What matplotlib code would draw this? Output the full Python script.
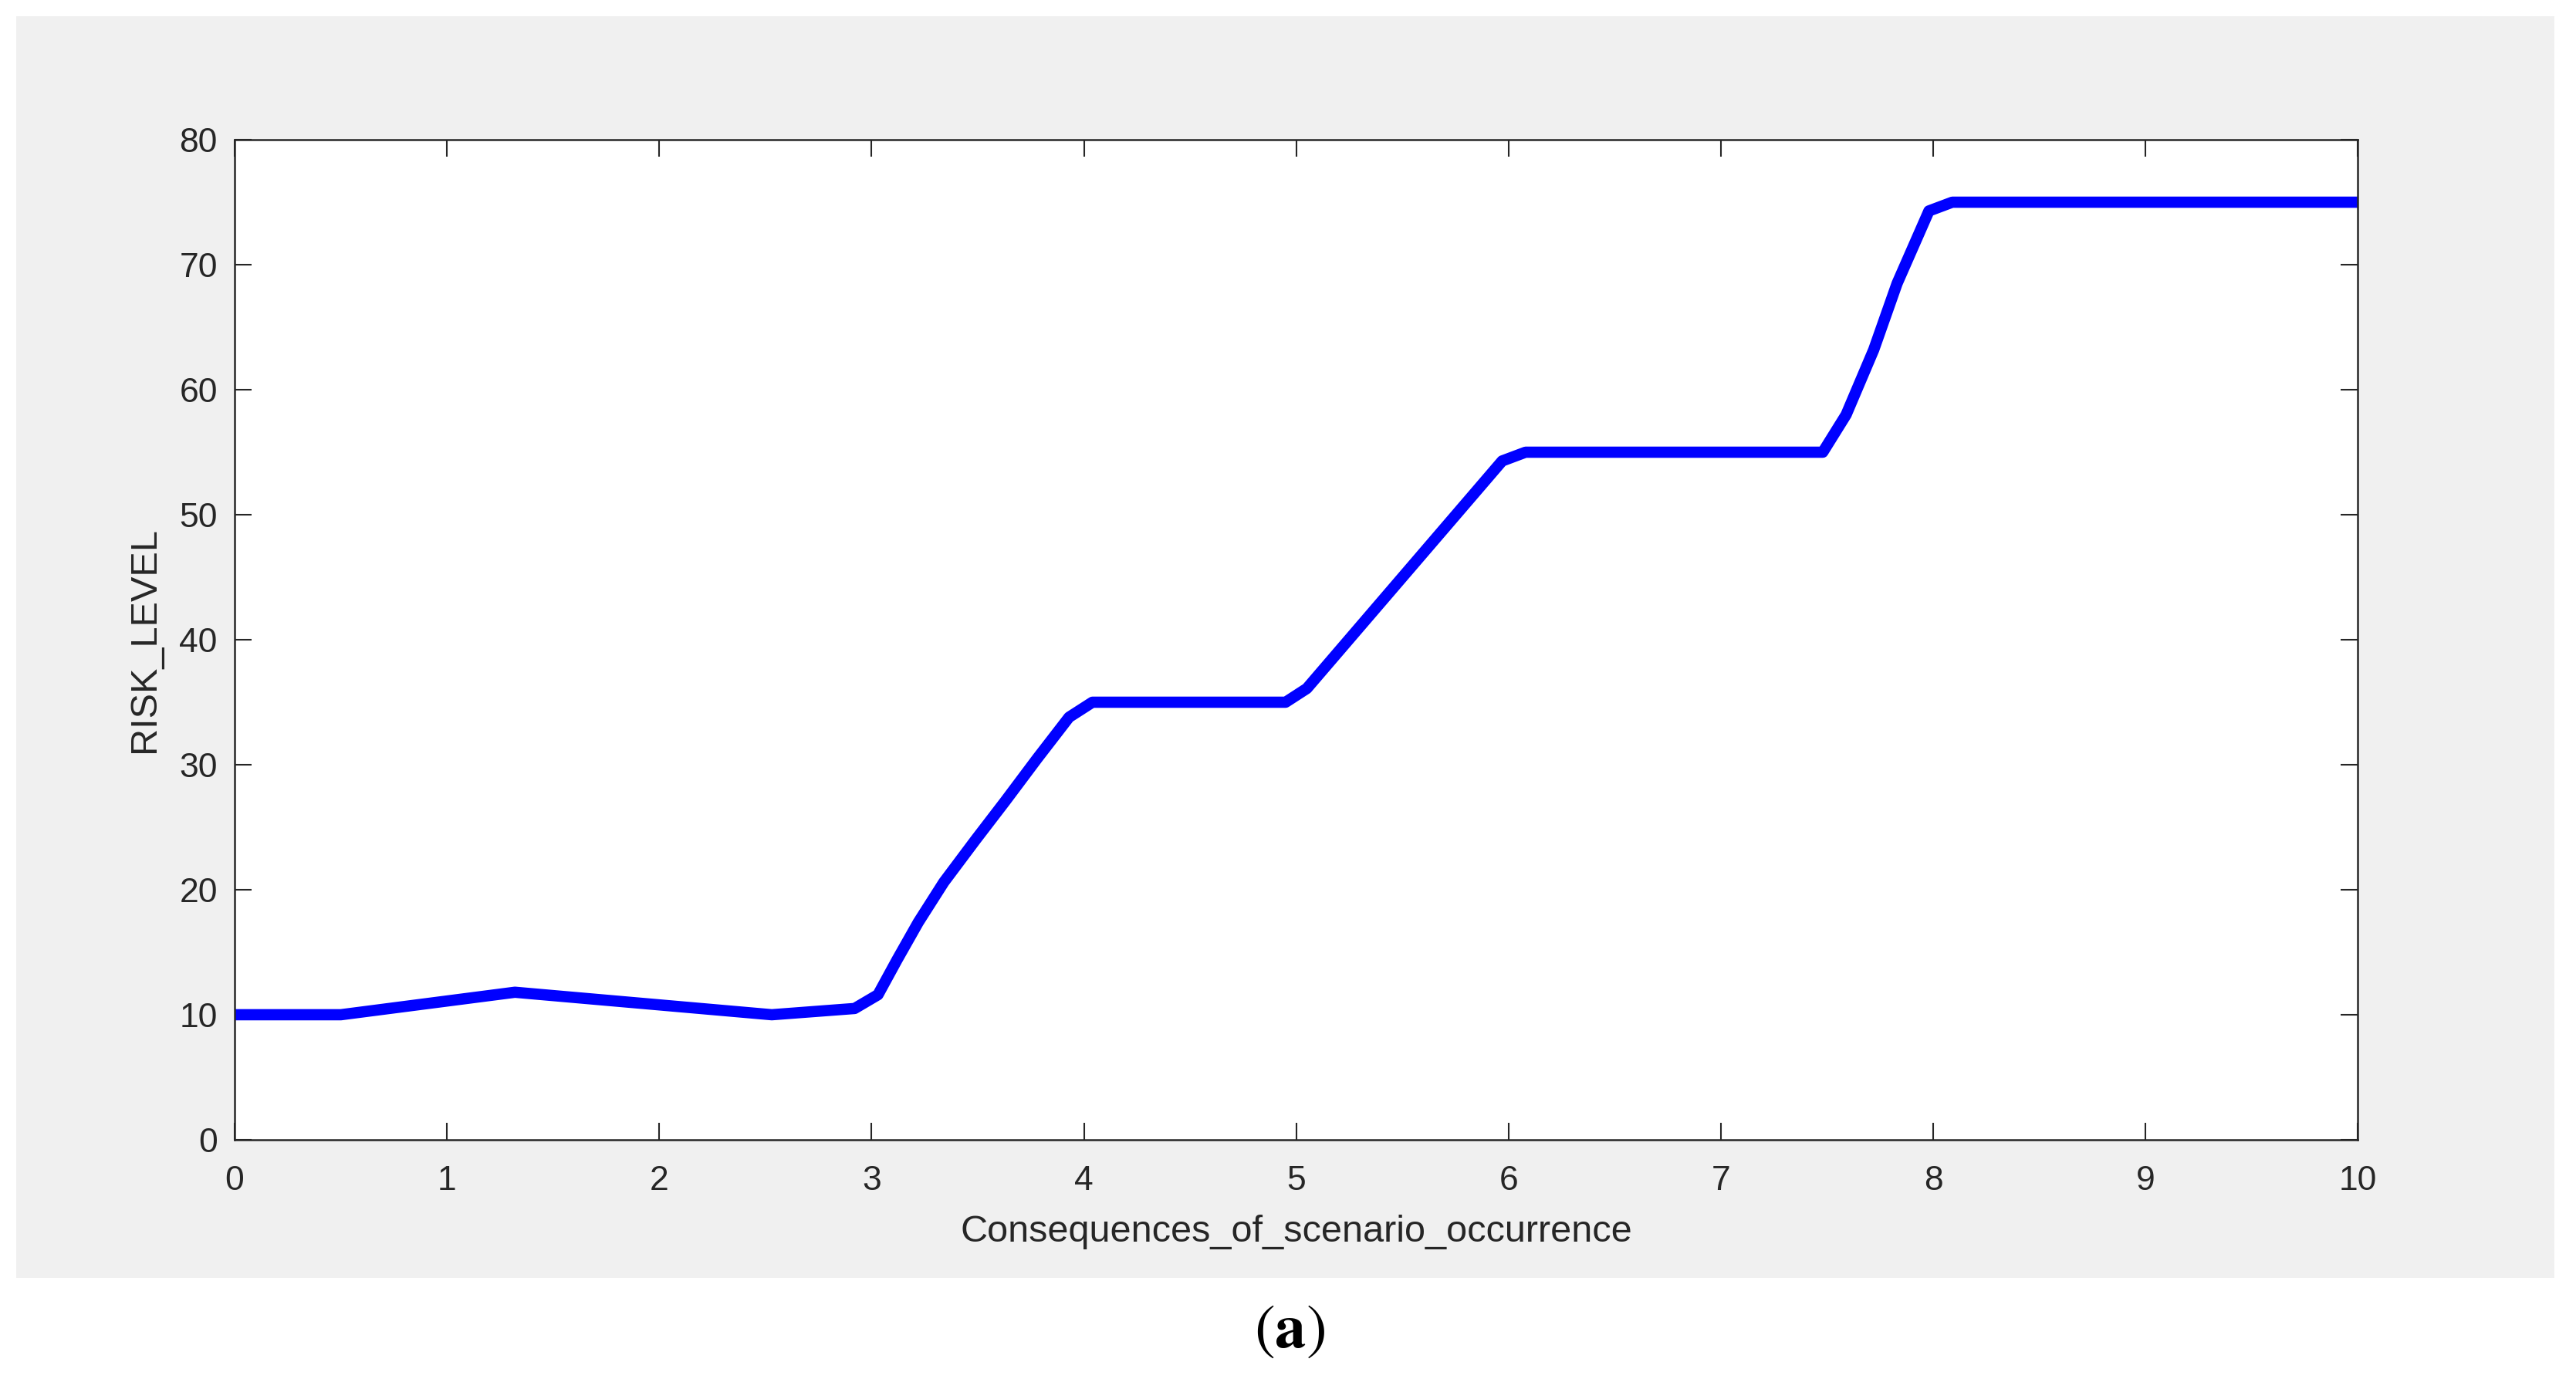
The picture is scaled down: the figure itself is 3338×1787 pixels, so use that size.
import matplotlib.pyplot as plt
from matplotlib.patches import Rectangle

plt.rcParams['font.family'] = ['Liberation Sans', 'DejaVu Sans']

# values
consequences = [0, 0.5, 1.32, 2.53, 2.92, 3.03, 3.12, 3.22, 3.34, 3.49, 3.63, 3.78, 3.93,
                4.04, 4.95, 5.05, 5.97, 6.08, 7.48, 7.59, 7.72, 7.83, 7.98, 8.09, 10]
risk_level = [10, 10, 11.8, 10, 10.5, 11.6, 14.4, 17.4, 20.6, 24, 27.1, 30.5, 33.8,
              35, 35, 36.1, 54.3, 55, 55, 58, 63.2, 68.5, 74.3, 75, 75]
xticks = list(range(0, 11))
yticks = list(range(0, 81, 10))

fig = plt.figure(figsize=(33.38, 17.87), dpi=100)
bg = Rectangle((0.0063, 0.0733), 0.9853, 0.9149, transform=fig.transFigure,
               facecolor='#f0f0f0', edgecolor='none', zorder=-10)
fig.add_artist(bg)

ax = fig.add_axes([0.0911, 0.1735, 0.8242, 0.7252])
ax.plot(consequences, risk_level, color='#0000ff', linewidth=10.5, solid_joinstyle='round')
ax.set_xlim(0, 10)
ax.set_ylim(0, 80)
ax.set_xticks(xticks)
ax.set_yticks(yticks)
ax.tick_params(direction='in', length=16, width=1.5, color='#262626', labelcolor='#262626',
               labelsize=32, top=True, right=True)
ax.tick_params(axis='x', pad=24)
ax.tick_params(axis='y', pad=16)
for s in ax.spines.values():
    s.set_color('#262626')
    s.set_linewidth(1.8)

ax.set_xlabel('Consequences_of_scenario_occurrence', fontsize=35, color='#262626', va='center')
ax.xaxis.set_label_coords(0.5, -0.0926)
ax.set_ylabel('RISK_LEVEL', fontsize=35, color='#262626', va='center')
ax.yaxis.set_label_coords(-0.0425, 0.5)

fig.text(0.5006, 0.035, r'$(\mathbf{a})$', fontsize=58, math_fontfamily='stix',
         ha='center', va='center')

plt.savefig('out.png', dpi=100)
